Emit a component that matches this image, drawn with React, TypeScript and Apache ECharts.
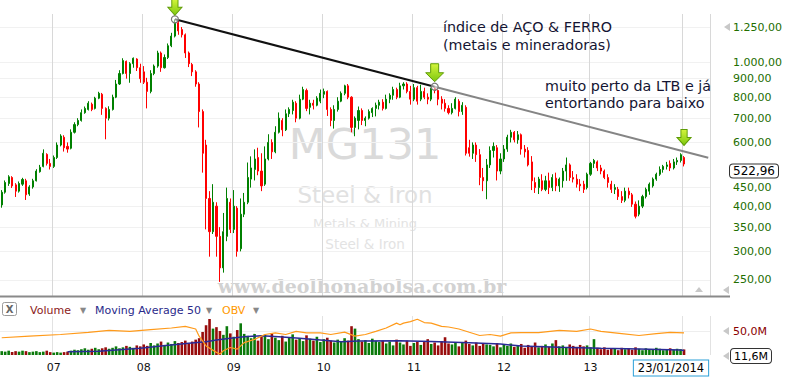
import React, { useEffect, useRef } from 'react';
import * as echarts from 'echarts';

// [open, close, low, high] — biweekly candles, mid-2006 .. 23/01/2014
const candles: number[][] = [
  [403,437,396,443],[437,465,433,471],[462,482,455,487],[480,455,449,484],[458,440,424,463],
  [440,462,436,468],[460,474,455,479],[470,430,416,476],[432,452,427,457],[452,470,447,476],
  [470,500,468,506],[498,512,495,520],[515,560,512,574],[556,525,518,560],[525,515,505,540],
  [515,545,510,552],[545,590,540,600],[590,625,585,632],[620,580,566,628],[585,575,562,600],
  [578,640,574,652],[640,672,635,682],[672,690,665,700],[690,725,685,740],[725,745,720,754],
  [740,770,735,780],[765,740,732,773],[745,795,740,802],[795,820,790,828],[815,745,715,822],
  [745,700,612,750],[700,740,690,755],[740,800,735,813],[800,870,795,893],[870,930,865,950],
  [930,1010,925,1025],[1005,930,900,1010],[930,990,877,1000],[990,1025,965,1030],[1020,965,945,1025],
  [965,900,877,990],[940,880,870,975],[880,830,745,905],[830,930,820,950],[930,975,920,985],
  [975,1060,965,1075],[1060,965,940,1070],[965,1030,960,1050],[1030,1110,1020,1126],[1110,1180,1100,1205],
  [1180,1285,1170,1313],[1285,1220,1190,1300],[1230,1190,1170,1250],[1190,1060,1027,1200],[1060,990,969,1070],
  [985,940,915,995],[940,870,855,950],[870,730,660,880],[730,560,495,740],[590,420,345,610],
  [420,340,290,440],[340,410,335,460],[400,330,290,410],[330,270,247,350],[270,340,262,383],
  [330,420,320,450],[410,345,337,420],[345,400,337,443],[395,300,290,400],[305,380,300,420],
  [380,410,373,435],[410,480,405,528],[475,510,450,549],[505,540,471,574],[545,500,487,580],
  [500,455,440,560],[460,540,455,585],[540,600,535,632],[600,565,540,612],[565,640,560,665],
  [640,700,635,726],[690,650,624,700],[650,720,645,740],[720,740,705,750],[735,775,717,787],
  [770,700,682,780],[700,790,695,813],[790,840,785,855],[835,745,732,845],[750,770,717,787],
  [770,760,740,787],[760,795,755,805],[780,820,770,840],[815,830,795,845],[830,740,710,835],
  [740,690,665,750],[690,740,655,760],[740,780,730,800],[780,820,775,830],[820,860,810,866],
  [860,800,790,870],[800,660,640,805],[660,700,624,708],[690,735,652,754],[735,690,670,745],
  [690,700,665,708],[700,730,694,740],[725,745,705,750],[745,760,708,773],[760,775,740,787],
  [775,745,735,790],[745,790,740,813],[790,810,770,820],[810,840,787,855],[840,800,790,850],
  [800,860,795,877],[860,870,840,880],[870,830,820,880],[830,790,763,860],[790,850,780,870],
  [850,780,763,860],[790,830,780,866],[830,800,790,850],[800,790,765,820],[790,845,780,850],
  [845,835,820,855],[835,790,760,840],[790,770,740,805],[770,745,730,790],[745,725,717,760],
  [725,745,717,770],[745,790,740,800],[780,730,708,790],[730,760,715,775],[750,560,552,760],
  [580,560,548,610],[560,590,540,600],[590,555,530,600],[555,480,457,575],[480,470,440,510],
  [470,520,418,540],[520,570,510,585],[570,585,545,600],[580,500,471,590],[500,540,490,560],
  [540,575,530,590],[575,620,565,630],[620,640,600,650],[640,610,600,645],[610,630,595,645],
  [630,575,555,635],[575,565,545,590],[570,520,515,582],[530,470,443,550],[465,450,435,480],
  [450,475,432,482],[470,445,440,490],[445,470,440,485],[470,450,432,495],[450,480,440,490],
  [478,455,440,495],[455,475,438,480],[470,500,450,510],[500,520,470,545],[520,480,470,525],
  [480,475,465,500],[475,460,450,490],[460,455,440,475],[460,445,435,470],[450,490,445,495],
  [490,525,485,530],[525,535,510,540],[530,510,500,535],[510,500,490,520],[500,480,475,505],
  [480,465,450,490],[460,445,435,470],[445,450,432,460],[445,425,416,452],[425,415,408,440],
  [415,440,410,450],[440,430,420,450],[430,405,398,435],[405,375,370,412],[380,400,375,415],
  [400,425,395,430],[425,445,420,450],[440,460,430,465],[455,475,450,480],[475,490,470,495],
  [490,505,485,515],[505,515,495,520],[515,520,505,530],[525,510,500,535],[510,530,505,540],
  [530,535,520,545],[535,555,528,560],[545,522.96,515,550],
];

// volume in millions
const volume: number[] = [
  8,7,9,6,8,7,9,8,6,7,8,6,7,9,6,
  5,6,5,6,7,
  9,11,10,12,14,11,13,15,12,14,16,13,15,18,14,16,19,17,15,20,18,
  22,19,25,20,24,28,21,26,23,29,25,27,30,24,28,32,35,
  48,62,75,55,58,
  50,42,60,45,38,52,66,44,
  40,35,44,30,38,42,33,45,36,31,40,28,37,43,32,35,29,41,34,30,38,27,33,36,30,
  26,32,28,35,30,60,
  55,33,28,31,25,34,29,27,30,
  24,28,20,32,26,22,30,19,25,28,21,27,33,23,26,20,29,37,24,22,27,18,25,30,23,20,26,19,24,22,
  21,18,25,16,22,19,24,17,20,23,15,21,18,26,16,19,22,17,24,31,18,20,16,22,19,17,21,18,20,16,
  33,
  15,12,16,11,14,13,10,15,12,14,11,16,13,10,14,12,11,15,13,10,12,14,11,13,12,11.6,
];

// [slot index, value in millions]
const ma50: number[][] = [
  [19,6.9],[28,7.7],[40,14],[46,18.7],[54,24.4],[59,27.7],[62,31.2],[66,34.8],[70,38.1],[75,40.2],
  [80,38.1],[86,34.8],[92,31.2],[98,27.7],[103,29],[115,29.5],[124,28],[135,25.6],[144,22.9],
  [150,18.7],[161,16],[173,14],[184,12.5],[196,10.4],[197,9.5],
];

// [slot index, OBV (relative units)]
const obv: number[][] = [
  [0,167],[8,183],[17,200],[25,223],[31,243],[37,233],[43,250],[49,267],[53,283],[56,257],
  [57,183],[59,83],[62,17],[63,0],[64,33],[66,67],[68,50],[70,117],[73,150],[76,200],
  [79,217],[82,200],[85,233],[88,217],[92,217],[95,200],[99,225],[102,183],[105,200],[108,233],
  [111,267],[114,317],[115,300],[116,317],[118,333],[120,357],[122,323],[124,317],[127,283],[129,277],
  [132,257],[135,223],[138,190],[141,200],[144,183],[147,217],[150,220],[155,220],[161,243],[166,233],
  [170,257],[173,233],[179,210],[184,190],[189,210],[193,223],[197,217],
];

const priceTicks = [250, 300, 350, 400, 450, 600, 700, 800, 900, 1000, 1250];
const volumeTicks = [50];
const yearTickIndex = [15, 41, 67, 93, 119, 145, 170];
const yearLabels = ['07', '08', '09', '10', '11', '12', '13'];
const cursorIndex = 197;
const lastDate = '23/01/2014';
const totalSlots = 205;
const trendFrom = 50;
const trendTo = 125;
const trendEnd = 204;

function fmtBR(v: number, d: number) {
  const s = v.toFixed(d);
  const [i, f] = s.split('.');
  return i.replace(/\B(?=(\d{3})+(?!\d))/g, '.') + (d ? ',' + f : '');
}

const L = (v: number) => Math.log10(v);
const FONT = 'DejaVu Sans';

function buildOption() {
  const cats = Array.from({ length: totalSlots }, (_, i) => String(i));
  const candleData = candles.map((c) => c.map(L));
  const volData = volume.map((v, i) => ({
    value: v,
    itemStyle: { color: candles[i][1] >= candles[i][0] ? '#0b7a0b' : '#980c0c' },
  }));
  const a = L(candles[trendFrom][3]);
  const b = L(candles[trendTo][3]);
  const slope = (b - a) / (trendTo - trendFrom);
  const endV = a + slope * (trendEnd - trendFrom);
  const arrow3V = a + slope * (cursorIndex - trendFrom);
  const yearSet = new Set(yearTickIndex);
  const gridSet = new Set([...yearTickIndex, cursorIndex]);
  const arrowPath = 'path://M5,0 L13,0 L13,9 L18,9 L9,18 L0,9 L5,9 Z';
  const arrowStyle = {
    color: {
      type: 'linear', x: 0, y: 0, x2: 0, y2: 1,
      colorStops: [{ offset: 0, color: '#d4f53c' }, { offset: 1, color: '#7cc70e' }],
    },
    borderColor: '#5f9c06',
    borderWidth: 1,
  };
  const circleStyle = { color: 'rgba(255,255,255,0.5)', borderColor: '#777', borderWidth: 1.2 };

  const txt = (x: number, y: number, text: string, extra: any = {}, z = 10) => ({
    type: 'text', x, y, z, silent: true,
    style: {
      text, fontFamily: FONT, fontSize: 14, fill: '#141432',
      align: 'left', verticalAlign: 'middle', textAlign: 'left', textVerticalAlign: 'middle',
      ...extra,
    },
  });
  const center = { align: 'center', textAlign: 'center' };
  const tri = (pts: number[][], fill = '#c8c8c8') => ({
    type: 'polygon', z: 10, silent: true, shape: { points: pts }, style: { fill },
  });

  return {
    animation: false,
    textStyle: { fontFamily: FONT },
    grid: [
      { left: 0, top: 14, width: 710, height: 282 },
      { left: 0, top: 316, width: 710, height: 39 },
    ],
    xAxis: [
      {
        type: 'category', gridIndex: 0, data: cats, boundaryGap: true,
        axisLine: { show: false }, axisTick: { show: false }, axisLabel: { show: false },
        splitLine: { show: true, interval: (i: number) => gridSet.has(i), lineStyle: { color: '#d8d8d8', width: 1 } },
      },
      {
        type: 'category', gridIndex: 1, data: cats, boundaryGap: true,
        axisLine: { show: false }, axisTick: { show: false },
        axisLabel: {
          show: true, interval: (i: number) => yearSet.has(i),
          formatter: (_v: string, i: number) => yearLabels[yearTickIndex.indexOf(i)] ?? '',
          color: '#111', fontSize: 11, margin: 7, fontFamily: FONT,
        },
        splitLine: { show: true, interval: (i: number) => gridSet.has(i), lineStyle: { color: '#e2e2e2', width: 1 } },
      },
    ],
    yAxis: [
      {
        type: 'value', gridIndex: 0, position: 'right', min: L(225.8), max: L(1358.3),
        axisLine: { show: false },
        axisTick: { show: false, customValues: priceTicks.map(L) },
        axisLabel: {
          customValues: priceTicks.map(L),
          formatter: (v: number) => fmtBR(Math.round(Math.pow(10, v) * 100) / 100, 2),
          color: '#226e00', fontSize: 11, margin: 23, fontFamily: FONT,
        },
        splitLine: { show: true, lineStyle: { color: '#f1f1f1', width: 1 } },
      },
      {
        type: 'value', gridIndex: 1, position: 'right', min: 0, max: 81.25,
        axisLine: { show: false },
        axisTick: { show: false, customValues: volumeTicks },
        axisLabel: {
          customValues: volumeTicks,
          formatter: (v: number) => fmtBR(v, 1) + 'M',
          color: '#8b0000', fontSize: 11, margin: 23, fontFamily: FONT,
        },
        splitLine: { show: true, lineStyle: { color: '#eeeeee', width: 1 } },
      },
      { type: 'value', gridIndex: 1, min: -10, max: 390, show: false, splitLine: { show: false } },
    ],
    series: [
      {
        type: 'candlestick', xAxisIndex: 0, yAxisIndex: 0, data: candleData, barWidth: 1.6,
        itemStyle: { color: '#008000', color0: '#ff0000', borderColor: '#008000', borderColor0: '#ff0000', borderWidth: 1 },
        markLine: {
          silent: true, symbol: ['none', 'none'], label: { show: false },
          data: [
            [{ coord: [trendFrom, a], lineStyle: { color: '#111', width: 2, type: 'solid' } }, { coord: [trendTo, b] }],
            [{ coord: [trendTo, b], lineStyle: { color: '#858585', width: 2, type: 'solid' } }, { coord: [trendEnd, endV] }],
          ],
        },
        markPoint: {
          silent: true, label: { show: false },
          data: [
            { coord: [trendFrom, a], symbol: 'circle', symbolSize: 7, itemStyle: circleStyle },
            { coord: [trendTo, b], symbol: 'circle', symbolSize: 7, itemStyle: circleStyle },
            { coord: [trendFrom, a], symbol: arrowPath, symbolSize: [14, 16], symbolOffset: [0, -12], itemStyle: arrowStyle },
            { coord: [trendTo, b], symbol: arrowPath, symbolSize: [18, 18], symbolOffset: [0, -14], itemStyle: arrowStyle },
            { coord: [cursorIndex, arrow3V], symbol: arrowPath, symbolSize: [14, 16], symbolOffset: [0, -14], itemStyle: arrowStyle },
          ],
        },
      },
      { type: 'bar', xAxisIndex: 1, yAxisIndex: 1, data: volData, barWidth: 2.6, z: 2 },
      {
        type: 'line', xAxisIndex: 1, yAxisIndex: 1, data: ma50, showSymbol: false, symbol: 'none',
        lineStyle: { color: '#2a2a96', width: 1.5 }, z: 3,
      },
      {
        type: 'line', xAxisIndex: 1, yAxisIndex: 2, data: obv, showSymbol: false, symbol: 'none',
        lineStyle: { color: '#ff9a1a', width: 1.2 }, z: 4,
      },
    ],
    graphic: {
      elements: [
        // watermarks
        txt(365, 144, 'MG131', { fontSize: 43, fill: '#dadada', ...center }, 0),
        txt(365, 195, 'Steel & Iron', { fontSize: 23, fill: '#e1e1e1', ...center }, 0),
        txt(365, 223, 'Metals & Mining', { fontSize: 13, fill: '#e3e3e3', ...center }, 0),
        txt(365, 244, 'Steel & Iron', { fontSize: 13.5, fill: '#e3e3e3', ...center }, 0),
        txt(362, 286, 'www.deolhonabolsa.com.br', { fontSize: 19, fontWeight: 'bold', fontFamily: 'DejaVu Serif', fill: '#d2d2d2', ...center }, 0),
        // annotations
        txt(443, 27, 'índice de AÇO & FERRO', { fontSize: 14.3 }),
        txt(443, 45, '(metais e mineradoras)', { fontSize: 14.3 }),
        txt(545, 86, 'muito perto da LTB e já', { fontSize: 14.3 }),
        txt(545, 103, 'entortando para baixo', { fontSize: 14.3 }),
        // last price box
        txt(754, 171, fmtBR(candles[candles.length - 1][1], 2), {
          fontSize: 12, fill: '#000', backgroundColor: '#fff', borderColor: '#333', borderWidth: 1,
          borderRadius: 3, padding: [1, 3, 0, 3], ...center,
        }),
        // bottom separator line
        { type: 'line', z: 5, silent: true, shape: { x1: 0, y1: 296.5, x2: 730, y2: 296.5 }, style: { stroke: '#8a8a8a', lineWidth: 2 } },
        // small markers
        tri([[724, 27], [730, 23], [730, 31]]),
        tri([[695, 292], [699, 287], [703, 292]]),
        tri([[723, 290], [729, 286], [729, 294]]),
        tri([[723, 331], [729, 327], [729, 335]]),
        tri([[723, 356], [729, 352], [729, 360]]),
        // volume header
        { type: 'rect', z: 10, silent: true, shape: { x: 2.5, y: 302.5, width: 14, height: 13, r: 2 }, style: { fill: '#fff', stroke: '#9a9a9a', lineWidth: 1 } },
        txt(9.5, 309.5, 'X', { fontSize: 10, fontWeight: 'bold', fill: '#666', ...center }),
        txt(30, 310, 'Volume', { fontSize: 11, fill: '#8b1a1a' }),
        txt(80, 310, '▼', { fontSize: 8, fill: '#888' }),
        txt(95, 310, 'Moving Average 50', { fontSize: 11, fill: '#2a2a8a' }),
        txt(206, 310, '▼', { fontSize: 8, fill: '#888' }),
        txt(222, 310, 'OBV', { fontSize: 11, fill: '#ff9900' }),
        txt(253, 310, '▼', { fontSize: 8, fill: '#888' }),
        // last volume box
        txt(751, 356, fmtBR(volume[volume.length - 1], 1) + 'M', {
          fontSize: 11, fill: '#000', backgroundColor: '#fff', borderColor: '#333', borderWidth: 1,
          borderRadius: 3, padding: [2, 3, 1, 3], ...center,
        }),
        // date box
        txt(671, 368, lastDate, {
          fontSize: 11.5, fill: '#000', backgroundColor: '#fff', borderColor: '#2aa0d8', borderWidth: 1,
          padding: [2, 4, 1, 4], ...center,
        }),
      ],
    },
  };
}

export default function App() {
  const ref = useRef<HTMLDivElement>(null);
  useEffect(() => {
    const chart = echarts.init(ref.current!, undefined, { renderer: 'svg' });
    chart.setOption(buildOption() as any);
    return () => chart.dispose();
  }, []);
  return (
    <div
      ref={ref}
      style={{ position: 'absolute', left: 0, top: 0, width: 800, height: 380, background: '#fff' }}
    />
  );
}
